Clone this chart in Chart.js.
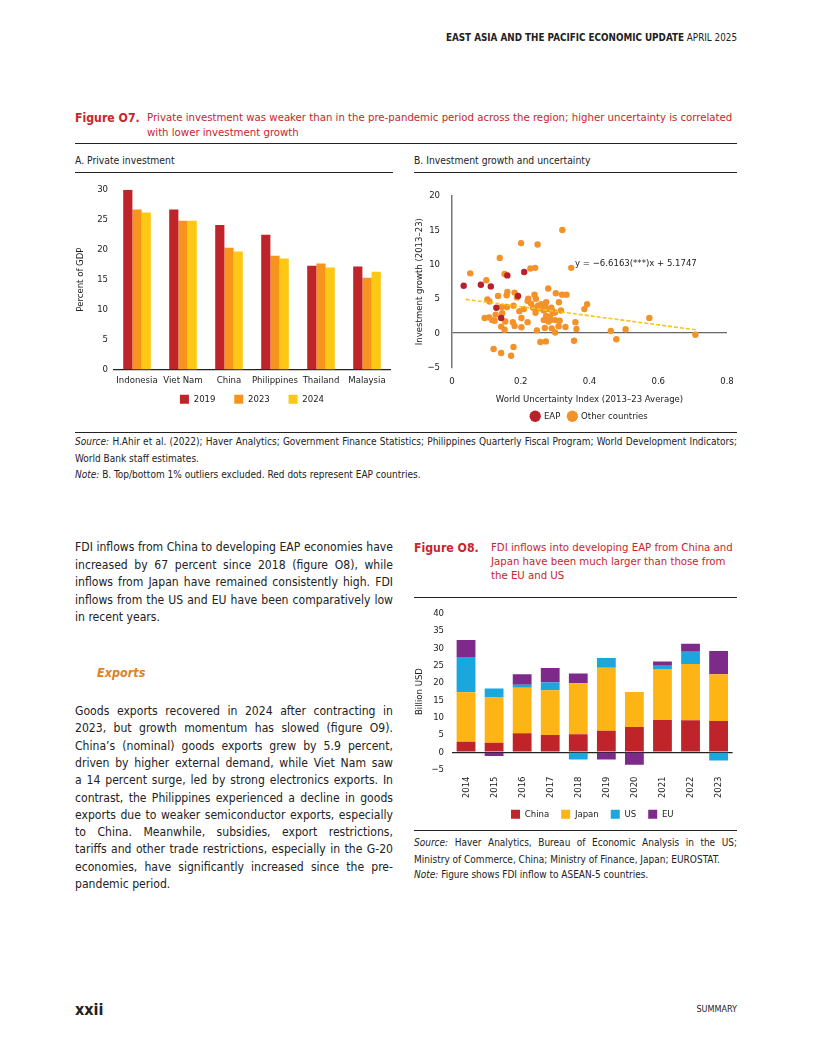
<!DOCTYPE html>
<html>
<head>
<meta charset="utf-8">
<script src="https://cdn.jsdelivr.net/npm/chart.js@4.4.1/dist/chart.umd.min.js"></script>
<style>
  body { margin: 0; background: #fff; }
  #page { position: relative; width: 816px; height: 1056px; font-family: "Liberation Sans Narrow", "DejaVu Sans Condensed", "Roboto", sans-serif; color: #222; }
  .abs { position: absolute; white-space: nowrap; }
  .rule { position: absolute; height: 0; border-top: 1px solid #222; }
  .red { color: #c9252c; }
  .body-line { position: absolute; left: 75px; width: 318px; font-size: 12.1px; text-align: justify; text-align-last: justify; white-space: nowrap; }
  .body-line.last { text-align-last: left; }
  .small { font-size: 10px; line-height: 16.5px; }
  .box { position: absolute; }
</style>
</head>
<body>
<div id="page">
  <div class="abs" style="right:79px; top:32px; font-size:9.8px;"><b>EAST ASIA AND THE PACIFIC ECONOMIC UPDATE</b> APRIL 2025</div>

  <div class="abs red" style="left:75px; top:111px; font-size:12.2px; font-weight:bold;">Figure O7.</div>
  <div class="abs red" style="left:147px; top:111px; font-size:11.3px; line-height:14.5px;">Private investment was weaker than in the pre-pandemic period across the region; higher uncertainty is correlated<br>with lower investment growth</div>
  <div class="rule" style="left:75px; top:143px; width:662px;"></div>

  <div class="abs" style="left:75px; top:154px; font-size:10.3px;">A. Private investment</div>
  <div class="rule" style="left:75px; top:172px; width:318px;"></div>
  <div class="abs" style="left:414px; top:154px; font-size:10.3px;">B. Investment growth and uncertainty</div>
  <div class="rule" style="left:414px; top:172px; width:323px;"></div>

  <div class="box" style="left:75px; top:178px; width:322px; height:236px;"><canvas id="chartA"></canvas></div>
  <div class="box" style="left:414px; top:178px; width:323px; height:253px;"><canvas id="chartB"></canvas></div>

  <div class="rule" style="left:75px; top:432px; width:662px;"></div>
  <div class="abs small" style="left:75px; top:434px; width:662px; white-space:normal; text-align:justify;"><i>Source:</i> H.Ahir et al. (2022); Haver Analytics; Government Finance Statistics; Philippines Quarterly Fiscal Program; World Development Indicators; World Bank staff estimates.<br><i>Note:</i> B. Top/bottom 1% outliers excluded. Red dots represent EAP countries.</div>

  <div class="body-line" style="top:540px;">FDI inflows from China to developing EAP economies have</div>
  <div class="body-line" style="top:557.5px;">increased by 67 percent since 2018 (figure O8), while</div>
  <div class="body-line" style="top:575px;">inflows from Japan have remained consistently high. FDI</div>
  <div class="body-line" style="top:592.5px;">inflows from the US and EU have been comparatively low</div>
  <div class="body-line last" style="top:610px;">in recent years.</div>

  <div class="abs" style="left:97px; top:665px; font-size:12.5px; font-weight:bold; font-style:italic; color:#d9822b;">Exports</div>

  <div class="body-line" style="top:704px;">Goods exports recovered in 2024 after contracting in</div>
  <div class="body-line" style="top:721.3px;">2023, but growth momentum has slowed (figure O9).</div>
  <div class="body-line" style="top:738.6px;">China’s (nominal) goods exports grew by 5.9 percent,</div>
  <div class="body-line" style="top:755.9px;">driven by higher external demand, while Viet Nam saw</div>
  <div class="body-line" style="top:773.2px;">a 14 percent surge, led by strong electronics exports. In</div>
  <div class="body-line" style="top:790.5px;">contrast, the Philippines experienced a decline in goods</div>
  <div class="body-line" style="top:807.8px;">exports due to weaker semiconductor exports, especially</div>
  <div class="body-line" style="top:825.1px;">to China. Meanwhile, subsidies, export restrictions,</div>
  <div class="body-line" style="top:842.4px;">tariffs and other trade restrictions, especially in the G-20</div>
  <div class="body-line" style="top:859.7px;">economies, have significantly increased since the pre-</div>
  <div class="body-line last" style="top:877px;">pandemic period.</div>

  <div class="abs red" style="left:414px; top:541px; font-size:12.2px; font-weight:bold;">Figure O8.</div>
  <div class="abs red" style="left:491px; top:541px; font-size:11.3px; line-height:14px;">FDI inflows into developing EAP from China and<br>Japan have been much larger than those from<br>the EU and US</div>
  <div class="rule" style="left:414px; top:597px; width:323px;"></div>

  <div class="box" style="left:414px; top:600px; width:323px; height:229px;"><canvas id="chartC"></canvas></div>

  <div class="rule" style="left:414px; top:830px; width:323px;"></div>
  <div class="abs small" style="left:414px; top:835px; width:323px; text-align:justify; text-align-last:justify;"><i>Source:</i> Haver Analytics, Bureau of Economic Analysis in the US;</div>
  <div class="abs small" style="left:414px; top:851.5px; width:323px;">Ministry of Commerce, China; Ministry of Finance, Japan; EUROSTAT.</div>
  <div class="abs small" style="left:414px; top:867px; width:323px;"><i>Note:</i> Figure shows FDI inflow to ASEAN-5 countries.</div>

  <div class="abs" style="left:75px; top:1000px; font-size:16px; font-weight:bold;">xxii</div>
  <div class="abs" style="right:79px; top:1004px; font-size:9px;">SUMMARY</div>
</div>

<script>
const FONT = '"Liberation Sans Narrow", "DejaVu Sans Condensed", "Roboto", sans-serif';
Chart.defaults.font.family = FONT;
Chart.defaults.color = '#222';
Chart.defaults.animation = false;

const RED = '#c0242b', ORANGE = '#f7941d', YELLOW = '#fdc813';

// Panel A: private investment, percent of GDP
const economies = ['Indonesia', 'Viet Nam', 'China', 'Philippines', 'Thailand', 'Malaysia'];
const inv2019 = [30.0, 26.7, 24.1, 22.5, 17.3, 17.2];
const inv2023 = [26.7, 24.8, 20.3, 19.0, 17.7, 15.3];
const inv2024 = [26.2, 24.8, 19.7, 18.5, 17.0, 16.3];
const ticksA = [0, 5, 10, 15, 20, 25, 30];

// Panel B: uncertainty index vs investment growth
const eapUncertainty = [0.034, 0.084, 0.113, 0.161, 0.210, 0.192, 0.129, 0.143];
const eapGrowth      = [6.9,   7.05,  6.8,   8.4,   8.9,   5.4,   3.7,   2.2];
const otherUncertainty = [
  0.053, 0.100, 0.139, 0.153, 0.201, 0.249, 0.228, 0.242, 0.321, 0.347,
  0.103, 0.109, 0.134, 0.159, 0.161, 0.182, 0.189, 0.220, 0.222, 0.240,
  0.244, 0.280, 0.302, 0.320, 0.333, 0.311, 0.274, 0.393, 0.385,
  0.145, 0.160, 0.179, 0.196, 0.209, 0.243, 0.250, 0.253, 0.262, 0.265,
  0.267, 0.271, 0.278, 0.289, 0.291, 0.294, 0.317, 0.259, 0.285,
  0.095, 0.108, 0.117, 0.127, 0.124, 0.155, 0.177, 0.202, 0.220, 0.267,
  0.281, 0.286, 0.300, 0.313, 0.359, 0.574, 0.274,
  0.143, 0.153, 0.182, 0.202, 0.247, 0.270, 0.290, 0.300, 0.330, 0.362,
  0.462, 0.505, 0.708,
  0.257, 0.273, 0.355, 0.478, 0.121, 0.143, 0.172, 0.179,
  0.300, 0.236, 0.310, 0.146, 0.230
];
const otherGrowth = [
  8.7, 7.7, 10.95, 8.6, 13.1, 12.9, 9.4, 9.5, 15.0, 9.5,
  4.9, 4.6, 5.4, 5.5, 6.0, 5.9, 5.2, 4.7, 5.0, 5.6,
  5.0, 6.5, 5.8, 5.6, 5.6, 4.5, 4.5, 4.2, 3.5,
  3.8, 3.8, 4.0, 3.2, 3.5, 2.95, 4.0, 3.6, 3.7, 4.0,
  3.3, 3.9, 3.5, 3.7, 3.3, 2.95, 3.3, 4.2, 2.4,
  2.2, 2.3, 1.9, 2.7, 1.8, 1.7, 1.6, 2.2, 1.6, 1.9,
  1.7, 1.9, 1.9, 1.8, 1.6, 2.2, 2.5,
  0.95, 0.5, 1.05, 0.86, 0.4, 0.76, 0.7, 0.1, 0.9, 0.6,
  0.33, 0.57, -0.24,
  -1.3, -1.2, -1.1, -0.9, -2.3, -2.9, -3.3, -2.0,
  3.0, 3.7, 1.0, 2.9, 4.3
];
const trendX = [0.04, 0.71];
const trendY = [4.91, 0.48];
const trendLabel = 'y = −6.6163(***)x + 5.1747';
const ticksBx = [0, 0.2, 0.4, 0.6, 0.8];
const ticksBy = [-5, 0, 5, 10, 15, 20];

// Figure O8: FDI inflows to ASEAN-5, billion USD
const years = ['2014', '2015', '2016', '2017', '2018', '2019', '2020', '2021', '2022', '2023'];
const fdiChina = [3.0, 2.7, 5.5, 5.0, 5.2, 6.2, 7.3, 9.3, 9.2, 9.0];
const fdiJapan = [14.3, 13.1, 13.1, 12.9, 14.7, 18.2, 10.1, 14.7, 16.3, 13.5];
const fdiUS    = [10.2, 2.6, 0.9, 2.2, -2.1, 2.8, 0, 1.0, 3.5, -2.4];
const fdiEU    = [4.9, -1.1, 3.0, 4.2, 2.8, -2.1, -3.6, 1.2, 2.3, 6.7];
const ticksC = [-5, 0, 5, 10, 15, 20, 25, 30, 35, 40];

const tickFont = { size: 9.5 };
const minus = (v) => v < 0 ? '−' + Math.abs(v) : v;

// wider gaps between legend items without a tall legend box
const spacedLabels = (chart) => Chart.defaults.plugins.legend.labels.generateLabels(chart)
  .map((l, i, all) => i < all.length - 1 ? { ...l, text: l.text + '\u2002\u2002\u2002' } : l);

new Chart(document.getElementById('chartA'), {
  type: 'bar',
  data: {
    labels: economies,
    datasets: [
      { label: '2019', data: inv2019, backgroundColor: RED },
      { label: '2023', data: inv2023, backgroundColor: ORANGE },
      { label: '2024', data: inv2024, backgroundColor: YELLOW }
    ]
  },
  options: {
    responsive: true, maintainAspectRatio: false,
    layout: { padding: { top: 1, right: 7 } },
    datasets: { bar: { categoryPercentage: 0.6, barPercentage: 1.0 } },
    scales: {
      x: {
        grid: { display: false, drawTicks: false },
        border: { color: '#222', width: 1.2 },
        ticks: { font: tickFont, padding: 5, autoSkip: false, maxRotation: 0 },
        afterFit: (s) => { s.height = 19; }
      },
      y: {
        min: 0, max: 30,
        afterBuildTicks: (s) => { s.ticks = ticksA.map(v => ({ value: v })); },
        grid: { display: false, drawTicks: false },
        border: { display: false },
        ticks: { font: tickFont, padding: 6 },
        title: { display: true, text: 'Percent of GDP', font: { size: 9.5 }, padding: 0 },
        afterFit: (s) => { s.width = 39; }
      }
    },
    plugins: {
      legend: { position: 'bottom', fullSize: false, labels: { boxWidth: 9, boxHeight: 9, font: { size: 9.5 }, padding: 6, color: '#222', generateLabels: spacedLabels } },
      tooltip: { enabled: false }
    }
  }
});

const labelPlugin = {
  id: 'trendLabel',
  afterDatasetsDraw(chart) {
    const { ctx, scales } = chart;
    ctx.save();
    ctx.font = '9.5px ' + FONT;
    ctx.fillStyle = '#222';
    ctx.textBaseline = 'middle';
    ctx.fillText(trendLabel, scales.x.getPixelForValue(0.358), scales.y.getPixelForValue(10.2));
    ctx.restore();
  }
};

new Chart(document.getElementById('chartB'), {
  type: 'scatter',
  data: {
    datasets: [
      { label: 'EAP', data: eapUncertainty.map((x, i) => ({ x, y: eapGrowth[i] })), backgroundColor: '#b8202a', borderWidth: 0, pointRadius: 3.2, order: 1 },
      { label: 'Other countries', data: otherUncertainty.map((x, i) => ({ x, y: otherGrowth[i] })), backgroundColor: '#f4922a', borderWidth: 0, pointRadius: 3.2, order: 2 },
      { label: 'trend', type: 'line', data: trendX.map((x, i) => ({ x, y: trendY[i] })), borderColor: '#f9c412', borderWidth: 1.6, borderDash: [4, 2], pointRadius: 0, order: 0 }
    ]
  },
  options: {
    responsive: true, maintainAspectRatio: false,
    layout: { padding: { top: 0, right: 10 } },
    scales: {
      x: {
        type: 'linear', min: 0, max: 0.8,
        afterBuildTicks: (s) => { s.ticks = ticksBx.map(v => ({ value: v })); },
        grid: { display: false, drawTicks: false },
        border: { display: false },
        ticks: { font: tickFont, padding: 8, callback: (v) => v === 0 ? '0' : v.toFixed(1) },
        title: { display: true, text: 'World Uncertainty Index (2013–23 Average)', font: { size: 9.5 }, padding: { top: 0, bottom: -2 } },
        afterFit: (s) => { s.height = 36; s.paddingRight = 0; s.paddingLeft = 0; }
      },
      y: {
        min: -5, max: 20,
        afterBuildTicks: (s) => { s.ticks = ticksBy.map(v => ({ value: v })); },
        grid: { drawTicks: false, color: (c) => c.tick && c.tick.value === 0 ? '#666' : 'transparent', lineWidth: 1.3 },
        border: { color: '#777', width: 1.5 },
        ticks: { font: tickFont, padding: 12, callback: minus },
        title: { display: true, text: 'Investment growth (2013–23)', font: { size: 9.5 }, padding: 0 },
        afterFit: (s) => { s.width = 38; }
      }
    },
    plugins: {
      legend: {
        position: 'bottom', fullSize: false,
        labels: {
          usePointStyle: true, pointStyle: 'circle', boxWidth: 8, boxHeight: 8, font: { size: 9.5 }, padding: 8, color: '#222',
          filter: (item) => item.text !== 'trend'
        }
      },
      tooltip: { enabled: false }
    }
  },
  plugins: [labelPlugin]
});

new Chart(document.getElementById('chartC'), {
  type: 'bar',
  data: {
    labels: years,
    datasets: [
      { label: 'China', data: fdiChina, backgroundColor: '#c0242b' },
      { label: 'Japan', data: fdiJapan, backgroundColor: '#fdb515' },
      { label: 'US', data: fdiUS, backgroundColor: '#1aa7dd' },
      { label: 'EU', data: fdiEU, backgroundColor: '#7d2a8a' }
    ]
  },
  options: {
    responsive: true, maintainAspectRatio: false,
    layout: { padding: { top: 0, right: 0 } },
    datasets: { bar: { categoryPercentage: 0.67, barPercentage: 1.0 } },
    scales: {
      x: {
        stacked: true,
        grid: { display: false, drawTicks: false },
        border: { display: false },
        ticks: { font: tickFont, padding: 7, minRotation: 90, maxRotation: 90, autoSkip: false },
        afterFit: (s) => { s.height = 28; }
      },
      y: {
        stacked: true, min: -5, max: 40,
        afterBuildTicks: (s) => { s.ticks = ticksC.map(v => ({ value: v })); },
        grid: { drawTicks: false, color: (c) => c.tick && c.tick.value === 0 ? '#222' : 'transparent', lineWidth: 1.2 },
        border: { display: false },
        ticks: { font: tickFont, padding: 8, callback: minus },
        title: { display: true, text: 'Billion USD', font: { size: 9.5 }, padding: 0 },
        afterFit: (s) => { s.width = 38; }
      }
    },
    plugins: {
      legend: { position: 'bottom', fullSize: false, labels: { boxWidth: 9, boxHeight: 9, font: { size: 9.5 }, padding: 12, color: '#222' } },
      tooltip: { enabled: false }
    }
  }
});
</script>
</body>
</html>
